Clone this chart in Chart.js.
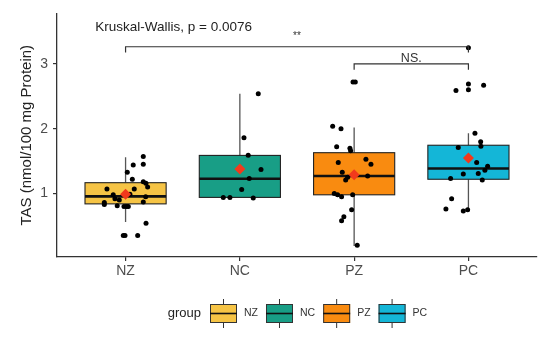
<!DOCTYPE html>
<html>
<head>
<meta charset="utf-8">
<script src="https://cdn.jsdelivr.net/npm/chart.js@4"></script>
<style>
  html, body { margin: 0; padding: 0; background: #fff; }
  #wrap { width: 550px; height: 340px; }
</style>
</head>
<body>
<div id="wrap"><canvas id="c" width="550" height="340"></canvas></div>
<script>
// groups and box statistics
const cats = ['NZ', 'NC', 'PZ', 'PC'];
const fills = ['#F6C445', '#189E86', '#F98B10', '#14B6D7'];
const q1 = [0.84, 0.94, 0.98, 1.22];
const med = [0.955, 1.228, 1.27, 1.385];
const q3 = [1.167, 1.588, 1.63, 1.745];
const whiskLo = [0.56, 0.94, 0.19, 0.73];
const whiskHi = [1.56, 2.54, 2.02, 1.93];
const means = [0.99, 1.38, 1.29, 1.55];
const yTicks = [1, 2, 3];

// jittered observations: value + horizontal jitter offset
const nzVals = [1.57, 1.44, 1.45, 1.33, 1.22, 1.18, 1.16, 1.10, 1.07, 1.07, 0.98, 0.92, 0.99, 0.95, 0.90, 0.86, 0.83, 0.87, 0.81, 0.80, 0.80, 0.80, 0.54, 0.35, 0.35, 0.35];
const nzJit = [0.155, 0.067, 0.155, 0.015, 0.059, 0.155, 0.178, 0.193, -0.163, 0.076, -0.108, -0.093, 0.038, 0.176, -0.055, -0.186, -0.186, 0.155, -0.073, -0.014, 0.01, 0.024, 0.179, -0.005, -0.02, 0.106];
const ncVals = [2.54, 1.86, 1.59, 1.37, 1.23, 1.06, 0.94, 0.94, 0.93];
const ncJit = [0.161, 0.036, 0.073, 0.185, 0.082, 0.016, -0.145, -0.087, 0.117];
const pzVals = [2.72, 2.72, 2.04, 2.00, 1.72, 1.70, 1.66, 1.48, 1.53, 1.45, 1.33, 1.25, 1.21, 1.27, 1.00, 0.98, 0.95, 0.98, 0.75, 0.64, 0.58, 0.20];
const pzJit = [-0.01, 0.01, -0.188, -0.115, -0.153, -0.037, -0.031, -0.139, 0.103, 0.147, -0.104, -0.057, -0.074, 0.118, -0.174, -0.145, -0.11, -0.013, -0.022, -0.09, -0.11, 0.027];
const pcVals = [3.25, 2.69, 2.60, 2.59, 2.67, 1.93, 1.80, 1.73, 1.71, 1.48, 1.42, 1.36, 1.31, 1.30, 1.21, 1.23, 0.92, 0.76, 0.73, 0.75];
const pcJit = [0, 0, 0, -0.109, 0.133, 0.057, 0.107, 0.109, -0.089, 0.072, 0.168, 0.144, 0.086, -0.045, 0.121, -0.156, -0.147, -0.197, -0.045, -0.007];

// significance brackets
const brackets = [
  { from: 1, to: 4, y: 3.265, label: '**', labelY: 3.43, size: 10 },
  { from: 3, to: 4, y: 3.0, label: 'NS.', labelY: 3.08, size: 12.5 }
];
const testLabel = 'Kruskal-Wallis, p = 0.0076';

const FONT = "'Liberation Sans', Arial, sans-serif";
const BOX_W = 0.71;

const groups = [[nzVals, nzJit], [ncVals, ncJit], [pzVals, pzJit], [pcVals, pcJit]];
const points = [];
groups.forEach(([vals, jit], i) => vals.forEach((v, k) => points.push({ x: i + 1 + jit[k], y: v })));

function drawKey(ctx, x, y, w, h, fill) {
  const cx = x + w / 2;
  ctx.strokeStyle = '#333';
  ctx.lineWidth = 1;
  ctx.beginPath();
  ctx.moveTo(cx, y - 5); ctx.lineTo(cx, y);
  ctx.moveTo(cx, y + h); ctx.lineTo(cx, y + h + 5);
  ctx.stroke();
  ctx.fillStyle = fill;
  ctx.fillRect(x, y, w, h);
  ctx.strokeRect(x + 0.5, y + 0.5, w - 1, h - 1);
  ctx.lineWidth = 1.6;
  ctx.strokeStyle = '#111';
  ctx.beginPath();
  ctx.moveTo(x, y + h / 2); ctx.lineTo(x + w, y + h / 2);
  ctx.stroke();
}

const boxPlugin = {
  id: 'boxes',
  beforeDatasetsDraw(chart) {
    const { ctx, scales: { x, y } } = chart;
    ctx.save();
    cats.forEach((c, i) => {
      const cx = x.getPixelForValue(i + 1);
      const l = x.getPixelForValue(i + 1 - BOX_W / 2);
      const r = x.getPixelForValue(i + 1 + BOX_W / 2);
      const top = y.getPixelForValue(q3[i]);
      const bot = y.getPixelForValue(q1[i]);
      ctx.strokeStyle = '#555';
      ctx.lineWidth = 1.3;
      ctx.beginPath();
      ctx.moveTo(cx, y.getPixelForValue(whiskHi[i])); ctx.lineTo(cx, top);
      ctx.moveTo(cx, bot); ctx.lineTo(cx, y.getPixelForValue(whiskLo[i]));
      ctx.stroke();
      ctx.fillStyle = fills[i];
      ctx.fillRect(l, top, r - l, bot - top);
      ctx.strokeStyle = '#222';
      ctx.lineWidth = 1.1;
      ctx.strokeRect(l, top, r - l, bot - top);
      ctx.lineWidth = 2.6;
      ctx.strokeStyle = '#111';
      const m = y.getPixelForValue(med[i]);
      ctx.beginPath();
      ctx.moveTo(l, m); ctx.lineTo(r, m);
      ctx.stroke();
    });
    ctx.restore();
  },
  afterDatasetsDraw(chart) {
    const { ctx, scales: { x, y } } = chart;
    ctx.save();
    // brackets
    ctx.strokeStyle = '#333';
    ctx.lineWidth = 1.2;
    ctx.fillStyle = '#333';
    ctx.textAlign = 'center';
    ctx.textBaseline = 'middle';
    brackets.forEach(b => {
      const x1 = x.getPixelForValue(b.from), x2 = x.getPixelForValue(b.to);
      const by = y.getPixelForValue(b.y);
      const tick = y.getPixelForValue(b.y - 0.09);
      ctx.beginPath();
      ctx.moveTo(x1, tick); ctx.lineTo(x1, by); ctx.lineTo(x2, by); ctx.lineTo(x2, tick);
      ctx.stroke();
      ctx.font = b.size + 'px ' + FONT;
      ctx.fillText(b.label, (x1 + x2) / 2, y.getPixelForValue(b.labelY));
    });
    ctx.font = '13.5px ' + FONT;
    ctx.fillStyle = '#222';
    ctx.fillText(testLabel, x.getPixelForValue(1.42), y.getPixelForValue(3.57));

    // legend
    const ly = 304, kw = 27, kh = 19;
    ctx.font = '13px ' + FONT;
    ctx.textAlign = 'right';
    ctx.fillStyle = '#222';
    ctx.fillText('group', 201, ly + kh / 2);
    ctx.font = '10.5px ' + FONT;
    ctx.textAlign = 'left';
    let lx = 210;
    cats.forEach((c, i) => {
      drawKey(ctx, lx, ly, kw, kh, fills[i]);
      ctx.fillStyle = '#333';
      ctx.fillText(c, lx + kw + 7, ly + kh / 2);
      lx += kw + 7 + ctx.measureText(c).width + 8;
    });
    ctx.restore();
  }
};

new Chart(document.getElementById('c'), {
  type: 'scatter',
  data: {
    datasets: [
      {
        data: means.map((m, i) => ({ x: i + 1, y: m })),
        pointStyle: 'rectRot', pointRadius: 5.5,
        backgroundColor: '#F23A1C', borderColor: '#F23A1C', borderWidth: 0
      },
      {
        data: points,
        pointRadius: 2.5, backgroundColor: '#000', borderColor: '#000', borderWidth: 0
      }
    ]
  },
  options: {
    responsive: false,
    animation: false,
    layout: { padding: { top: 10, right: 13, bottom: 0, left: 0 } },
    plugins: { legend: { display: false }, tooltip: { enabled: false } },
    scales: {
      x: {
        type: 'linear', min: 0.4, max: 4.6,
        afterBuildTicks: s => { s.ticks = cats.map((c, i) => ({ value: i + 1 })); },
        afterFit: s => { s.height = 83; },
        ticks: { callback: v => cats[v - 1], color: '#4d4d4d', font: { family: FONT, size: 14 }, padding: 2 },
        grid: { display: true, drawOnChartArea: false, drawTicks: true, tickLength: 4, color: '#333', lineWidth: 1.2 },
        border: { display: true, color: '#333', width: 1.3 }
      },
      y: {
        min: 0.02, max: 3.78,
        afterBuildTicks: s => { s.ticks = yTicks.map(v => ({ value: v })); },
        afterFit: s => { s.width = 57; },
        ticks: { color: '#4d4d4d', font: { family: FONT, size: 14 }, padding: 5 },
        grid: { display: true, drawOnChartArea: false, drawTicks: true, tickLength: 4, color: '#333', lineWidth: 1.2 },
        border: { display: true, color: '#333', width: 1.3 },
        title: { display: true, text: 'TAS (nmol/100 mg Protein)', color: '#222', font: { family: FONT, size: 15 }, padding: { top: 18, bottom: 0 } }
      }
    }
  },
  plugins: [boxPlugin]
});
</script>
</body>
</html>
